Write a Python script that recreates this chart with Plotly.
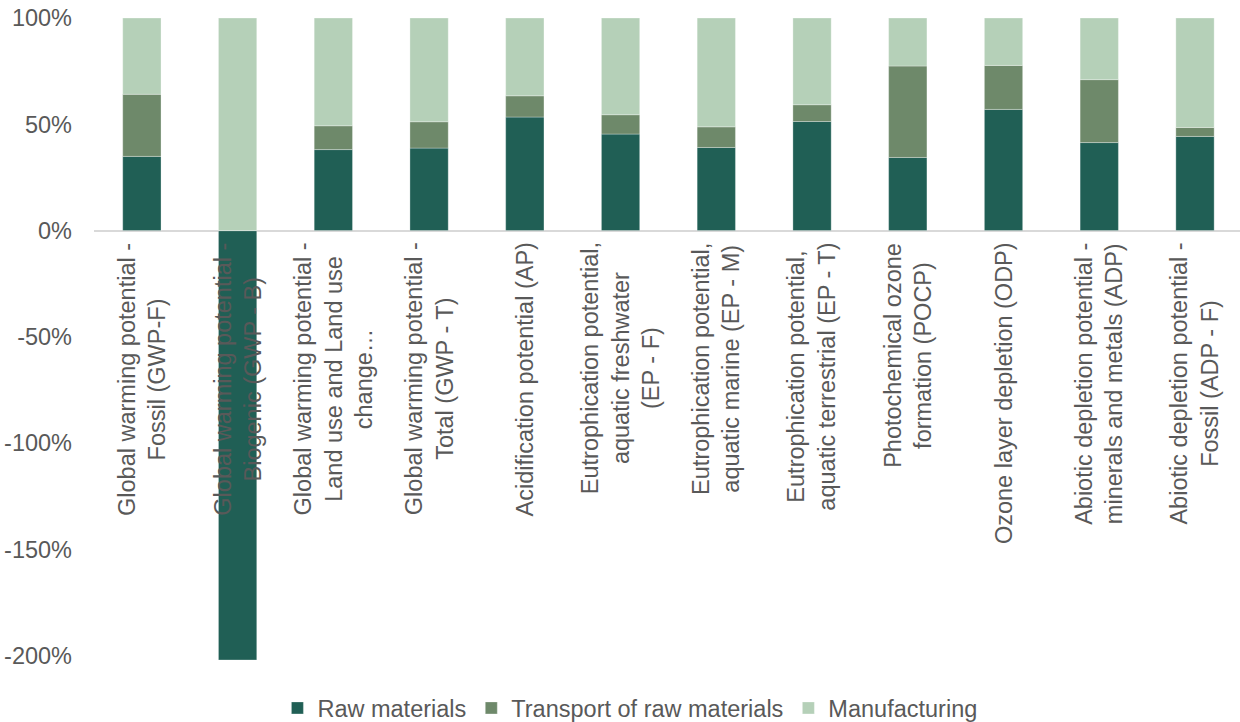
import plotly.graph_objects as go

# Impact categories (wrapped as displayed under the bars)
categories = [
    "GWP-F", "GWP-B", "GWP-LULUC", "GWP-T", "AP", "EP-F",
    "EP-M", "EP-T", "POCP", "ODP", "ADP-MM", "ADP-F",
]
category_labels = [
    "Global warming potential -<br>Fossil (GWP-F)",
    "Global warming potential -<br>Biogenic (GWP - B)",
    "Global warming potential -<br>Land use and Land use<br>change…",
    "Global warming potential -<br>Total (GWP - T)",
    "Acidification potential (AP)",
    "Eutrophication potential,<br>aquatic freshwater<br>(EP - F)",
    "Eutrophication potential,<br>aquatic marine (EP - M)",
    "Eutrophication potential,<br>aquatic terrestrial (EP - T)",
    "Photochemical ozone<br>formation (POCP)",
    "Ozone layer depletion (ODP)",
    "Abiotic depletion potential -<br>minerals and metals (ADP)",
    "Abiotic depletion potential -<br>Fossil (ADP - F)",
]

# Share of each life-cycle stage, in percent
raw_materials = [34.9, -202.0, 38.1, 38.8, 53.4, 45.4, 39.1, 51.3, 34.4, 57.0, 41.4, 44.3]
transport = [29.2, 0.0, 11.2, 12.4, 10.0, 9.1, 9.7, 7.9, 43.0, 20.7, 29.6, 4.2]
manufacturing = [35.9, 100.0, 50.7, 48.8, 36.6, 45.5, 51.2, 40.8, 22.6, 22.3, 29.0, 51.5]

tick_values = [-200, -150, -100, -50, 0, 50, 100]
tick_labels = ["-200%", "-150%", "-100%", "-50%", "0%", "50%", "100%"]

FONT = "Liberation Sans, Arial, sans-serif"
TEXT = "#595959"
SIZE = 23.5

series = [
    ("Raw materials", raw_materials, "#205F55"),
    ("Transport of raw materials", transport, "#6E896A"),
    ("Manufacturing", manufacturing, "#B5D0B8"),
]

fig = go.Figure()
for name, values, color in series:
    fig.add_trace(go.Bar(
        name=name,
        x=categories,
        y=values,
        marker=dict(color=color, line=dict(color="rgba(255,255,255,0.5)", width=0.6)),
    ))

# Category names drawn vertically just below the zero line
for cat, label in zip(categories, category_labels):
    fig.add_annotation(
        x=cat, y=0, xref="x", yref="y",
        text=label, textangle=-90,
        showarrow=False, align="center",
        xanchor="center", yanchor="top", yshift=-10,
        font=dict(family=FONT, size=SIZE, color=TEXT),
    )

fig.update_layout(
    width=1240, height=722,
    barmode="relative",
    bargap=0.6,
    paper_bgcolor="white",
    plot_bgcolor="white",
    margin=dict(l=94, r=0, t=18, b=62, autoexpand=False),
    font=dict(family=FONT, size=SIZE, color=TEXT),
    showlegend=True,
    legend=dict(
        orientation="h",
        xref="container", x=0.508, xanchor="center",
        y=-0.075, yanchor="middle",
        font=dict(family=FONT, size=SIZE, color=TEXT),
        itemwidth=30,
        traceorder="normal",
    ),
    xaxis=dict(
        showticklabels=False, showgrid=False, showline=False, ticks="",
        range=[-0.5, 11.47],
    ),
    yaxis=dict(
        range=[-202, 100],
        tickvals=tick_values,
        ticktext=tick_labels,
        showgrid=False,
        zeroline=True, zerolinecolor="#D9D9D9", zerolinewidth=1.5,
        showline=False, ticks="",
        ticklabelstandoff=21,
        tickfont=dict(family=FONT, size=SIZE, color=TEXT),
    ),
)

fig.write_html("out.html")
